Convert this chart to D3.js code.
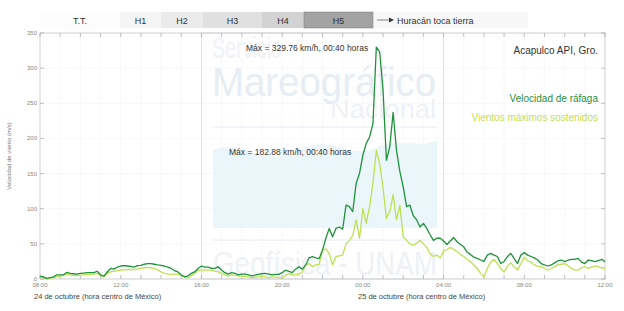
<!DOCTYPE html>
<html><head><meta charset="utf-8">
<script src="https://cdn.jsdelivr.net/npm/d3@7"></script>
<style>html,body{margin:0;padding:0;background:#fff;}svg{display:block;font-family:"Liberation Sans",Arial,sans-serif;}</style>
</head><body><svg id="c" width="624" height="311"></svg>
<script>
// time = minutes after 24 Oct 08:00, 10-minute steps
const gust = [4,3,1,2,3,6,6,6,9.5,8,7.5,7,8,8.5,9,9,9,11,6,4,10,15,14,17,18.5,19,18.5,18,17,19,19.5,21,22,22,21,20,19.5,18.5,17,15,12,10,6,3,4.5,8,10,15,
18.5,17,17,15,15,17.5,12.5,9,7,9,8,6,7,7,6,4.5,5.5,6.5,7.5,8,7,6,6.5,6.5,9,12.5,11,9,14,17.5,14,20,30,31.8,30,29,41,58,72,60,72,74,71,105,103,96,136,150,176,193,202,221,329.76,323,269,169,188,237,183,153,131,103,105,90,84,74,79,72,63,55,58,58,54,49,54,59,53,49,45.8,38,35,31,29.4,27,25,34,36.5,34,32,22,25,32,36.5,29,22,34,37.5,34,32,30,27,22,20,18.5,20,23,26,27,24.7,27,28,28,29.4,24,22,27,26,24.7,26,28,24.7];
const sustained = [3.3,2,0,1,2,3,4,5,7,6,5,5,5.5,6,6.5,6.5,7,8,5,3,8,10,11,12,12.5,13,13.5,13.5,13.5,14,15,16,16.5,16,15,13,10,8,7,6.5,7,7,5,3,1.5,5,8,12.5,
12.5,12.5,12.5,12.5,11,10,8,6,4,6,5,4,4,3.5,3,2,2.5,3,4,3,2,3,3,2,1.5,5,8,6,6,7,10,20,22,17.5,20,21,41,43,36,20,32,33,34,50,55,62,84,58,100,79,103,136,182.88,164,130,86,96,120,84,105,60,55,50,48,51,55,50,45,36,32,34,30,40,42,45,42,39,35,32,28,24.7,20,15,8,3,15,24,28,22,15,10,18,23,17,13,22,31,26,24,20,18,17.5,15,12.5,15,17.5,20,21,22,19,15,13,12.5,16,17.5,15,17,18.5,17.5,16,15];
const times = d3.range(gust.length).map(i => i * 10);
const xTickLabels = ["08:00","12:00","16:00","20:00","00:00","04:00","08:00","12:00"];
const yTicks = [0,50,100,150,200,250,300,350];
const categories = ["T.T.","H1","H2","H3","H4","H5"];
const dayLabels = ["24 de octubre (hora centro de México)","25 de octubre (hora centro de México)"];
const maxLabels = ["Máx = 329.76 km/h, 00:40 horas","Máx = 182.88 km/h, 00:40 horas"];

const svg = d3.select("#c");
const M = {l:40, r:605, t:33, b:279};
const x = d3.scaleLinear().domain([0, 28*60]).range([M.l, M.r]);
const y = d3.scaleLinear().domain([0, 350]).range([M.b, M.t]);

// header legend bar
const hdr = [
  {x0:40, x1:120, c:"#fcfcfc"},
  {x0:120, x1:161, c:"#f5f5f5"},
  {x0:161, x1:203, c:"#ebebeb"},
  {x0:203, x1:262, c:"#e0e0e0"},
  {x0:262, x1:304, c:"#d2d2d2"},
  {x0:304, x1:373, c:"#a3a3a3"}
];
svg.append("rect").attr("x",40).attr("y",12).attr("width",488).attr("height",16).attr("fill","#f7f7f7");
hdr.forEach((h,i)=>{
  svg.append("rect").attr("x",h.x0).attr("y",12).attr("width",h.x1-h.x0).attr("height",16).attr("fill",h.c)
    .attr("stroke", i===5?"#8a8a8a":"none").attr("stroke-width",0.6);
  svg.append("text").attr("x",(h.x0+h.x1)/2).attr("y",23.5).attr("text-anchor","middle")
    .attr("font-size",9).attr("fill","#333").text(categories[i]);
});
svg.append("line").attr("x1",377).attr("x2",390).attr("y1",20).attr("y2",20).attr("stroke","#555").attr("stroke-width",0.7);
svg.append("path").attr("d","M389,17.5 L394,20 L389,22.5 Z").attr("fill","#333");
svg.append("text").attr("x",397).attr("y",23.5).attr("font-size",9).attr("fill","#333").text("Huracán toca tierra");

// gridlines
const g = svg.append("g");
d3.range(0, 28*60+1, 60).forEach(t=>{
  g.append("line").attr("x1",x(t)).attr("x2",x(t)).attr("y1",M.t).attr("y2",M.b).attr("stroke","#f3f3f3").attr("stroke-width",0.6);
});
yTicks.forEach(v=>{
  g.append("line").attr("x1",M.l).attr("x2",M.r).attr("y1",y(v)).attr("y2",y(v)).attr("stroke","#f3f3f3").attr("stroke-width",0.6);
});

// watermark
const wm = svg.append("g");
wm.append("rect").attr("x",x(480)).attr("y",M.t).attr("width",x(1200)-x(480)).attr("height",M.b-M.t)
  .attr("fill","none").attr("stroke","#d6dbe6").attr("stroke-width",0.8);
wm.append("path").attr("d","M213,228 L213,150 C240,138 265,170 300,150 C330,133 350,160 375,148 C400,136 420,150 437,140 L437,228 Z")
  .attr("fill","#ebf6fb");
wm.append("text").attr("x",212).attr("y",58).attr("font-size",30).attr("fill","#eff2f7").attr("textLength",70).attr("lengthAdjust","spacingAndGlyphs").text("Servicio");
wm.append("text").attr("x",212).attr("y",96).attr("font-size",40).attr("fill","#e8edf4").attr("textLength",224).attr("lengthAdjust","spacingAndGlyphs").text("Mareográfico");
wm.append("text").attr("x",330).attr("y",118).attr("font-size",26).attr("fill","#eef1f6").attr("textLength",106).attr("lengthAdjust","spacingAndGlyphs").text("Nacional");
wm.append("line").attr("x1",212).attr("x2",437).attr("y1",127).attr("y2",127).attr("stroke","#e5ebf3").attr("stroke-width",1.2);
wm.append("line").attr("x1",212).attr("x2",437).attr("y1",240).attr("y2",240).attr("stroke","#e8edf3").attr("stroke-width",1.2);
wm.append("text").attr("x",213).attr("y",275).attr("font-size",34).attr("fill","#eef1f5").attr("textLength",224).attr("lengthAdjust","spacingAndGlyphs").text("Geofísica - UNAM");

// axes frame
const ax = "#c8c8c8";
svg.append("rect").attr("x",M.l).attr("y",M.t).attr("width",M.r-M.l).attr("height",M.b-M.t).attr("fill","none").attr("stroke",ax).attr("stroke-width",0.8);
d3.range(0, 28*60+1, 60).forEach(t=>{
  svg.append("line").attr("x1",x(t)).attr("x2",x(t)).attr("y1",M.t).attr("y2",M.t+4).attr("stroke","#999").attr("stroke-width",0.6);
  svg.append("line").attr("x1",x(t)).attr("x2",x(t)).attr("y1",M.b).attr("y2",M.b-4).attr("stroke","#999").attr("stroke-width",0.6);
});
yTicks.forEach(v=>{
  svg.append("line").attr("x1",M.l).attr("x2",M.l+4).attr("y1",y(v)).attr("y2",y(v)).attr("stroke","#999").attr("stroke-width",0.6);
  svg.append("line").attr("x1",M.r).attr("x2",M.r-4).attr("y1",y(v)).attr("y2",y(v)).attr("stroke","#999").attr("stroke-width",0.6);
  svg.append("text").attr("x",M.l-3).attr("y",y(v)+2).attr("text-anchor","end").attr("font-size",6).attr("fill","#888").text(v);
});
xTickLabels.forEach((s,i)=>{
  svg.append("text").attr("x",x(i*240)).attr("y",287).attr("text-anchor","middle").attr("font-size",6).attr("fill","#888").text(s);
});
svg.append("text").attr("x",34).attr("y",299).attr("font-size",7.5).attr("fill","#444").text(dayLabels[0]);
svg.append("text").attr("x",358).attr("y",299).attr("font-size",7.5).attr("fill","#444").text(dayLabels[1]);
svg.append("text").attr("transform","translate(11,156) rotate(-90)").attr("text-anchor","middle").attr("font-size",6).attr("fill","#777").text("Velocidad de viento (m/s)");

// lines
const line = (arr)=>d3.line().x((d,i)=>x(times[i])).y(d=>y(d))(arr);
svg.append("path").attr("d",line(sustained)).attr("fill","none").attr("stroke","#bde152").attr("stroke-width",1.3).attr("stroke-linejoin","round");
svg.append("path").attr("d",line(gust)).attr("fill","none").attr("stroke","#1f933a").attr("stroke-width",1.3).attr("stroke-linejoin","round");

// annotations
svg.append("text").attr("x",246).attr("y",51).attr("font-size",8.5).attr("fill","#333").text(maxLabels[0]);
svg.append("text").attr("x",229).attr("y",155).attr("font-size",8.5).attr("fill","#333").text(maxLabels[1]);
svg.append("text").attr("x",598).attr("y",54).attr("text-anchor","end").attr("font-size",10).attr("fill","#333").text("Acapulco API, Gro.");
svg.append("text").attr("x",598).attr("y",102).attr("text-anchor","end").attr("font-size",10).attr("fill","#2a8c3c").text("Velocidad de ráfaga");
svg.append("text").attr("x",598).attr("y",121).attr("text-anchor","end").attr("font-size",10).attr("fill","#c4dd52").text("Vientos máximos sostenidos");
</script></body></html>
